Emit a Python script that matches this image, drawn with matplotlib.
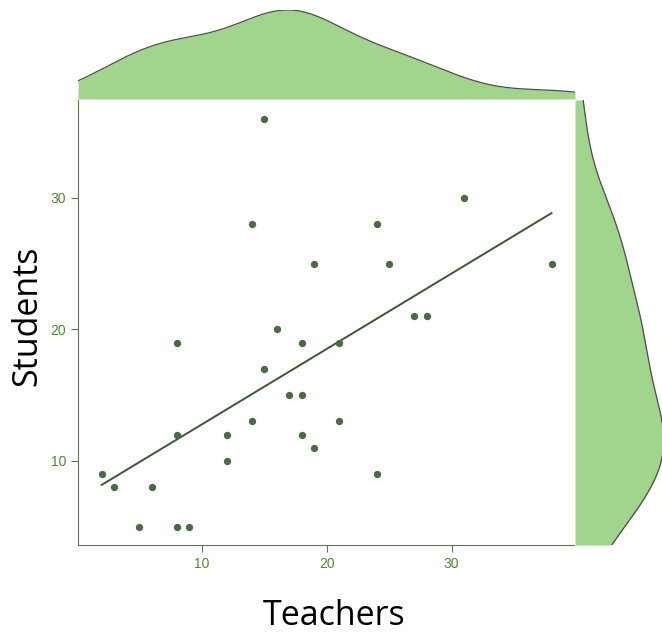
import numpy as np
import matplotlib
matplotlib.use('Agg')
import matplotlib.pyplot as plt

teachers = [15, 14, 19, 16, 8, 18, 15, 17, 18, 14, 8, 12, 18, 19, 12,
            2, 3, 6, 5, 8, 9, 31, 24, 25, 38, 27, 28, 21, 21, 24]
students = [36, 28, 25, 20, 19, 19, 17, 15, 15, 13, 12, 12, 12, 11, 10,
            9, 8, 8, 5, 5, 5, 30, 28, 25, 25, 21, 21, 19, 13, 9]
xticks = [10, 20, 30]
yticks = [10, 20, 30]

x = np.array(teachers, dtype=float)
y = np.array(students, dtype=float)

pt_col = '#4b6b42'
line_col = '#3b5733'
fill_col = '#a2d58c'
tick_col = '#4f8a33'
spine_col = '#5d7a55'


def kde(data, grid, adj=1.0):
    n = len(data)
    iqr = np.subtract(*np.percentile(data, [75, 25]))
    bw = adj * 0.9 * min(np.std(data, ddof=1), iqr / 1.34) * n ** -0.2
    z = (grid[:, None] - data[None, :]) / bw
    return np.exp(-0.5 * z ** 2).sum(axis=1) / (n * bw * np.sqrt(2 * np.pi))


xlim = (0.1, 39.8)
ylim = (3.6, 37.45)

fig = plt.figure(figsize=(6.62, 6.33), dpi=100)
ax = fig.add_axes([78/662, 1-545/633, 496/662, 445/633])
axt = fig.add_axes([78/662, 1-99/633, 497/662, 89/633])
axr = fig.add_axes([575/662, 1-545/633, 87/662, 445/633])

ax.scatter(x, y, s=28, color=pt_col, zorder=3, linewidths=0)
b, a = np.polyfit(x, y, 1)
xs = np.array([x.min(), x.max()])
ax.plot(xs, a + b * xs, color=line_col, lw=1.4)
ax.set_xlim(*xlim)
ax.set_ylim(*ylim)
ax.set_xticks(xticks)
ax.set_yticks(yticks)
for s in ['top', 'right']:
    ax.spines[s].set_visible(False)
for s in ['left', 'bottom']:
    ax.spines[s].set_color(spine_col)
ax.tick_params(colors=spine_col, labelcolor=tick_col, labelsize=10, length=5)
for lab in ax.get_xticklabels() + ax.get_yticklabels():
    lab.set_family('Liberation Sans')

gx = np.linspace(*xlim, 300)
dx = kde(x, gx, 0.9)
axt.fill_between(gx, 0, dx, color=fill_col, lw=0)
axt.plot(gx, dx, color='#4d4d4d', lw=0.9)
axt.set_xlim(*xlim)
axt.set_ylim(0, dx.max())
axt.axis('off')

gy = np.linspace(*ylim, 300)
dy = kde(y, gy, 1.0)
axr.fill_betweenx(gy, 0, dy, color=fill_col, lw=0)
axr.plot(dy, gy, color='#4d4d4d', lw=0.9)
axr.set_ylim(*ylim)
axr.set_xlim(0, dy.max() * 0.98)
axr.axis('off')

fig.text(0.505, 0.027, 'Teachers', ha='center', va='center', fontsize=24.5,
         family='Open Sans')
fig.text(0.042, 0.501, 'Students', ha='center', va='center', fontsize=24.5,
         rotation=90, family='Open Sans')

fig.savefig('out.png', dpi=100)
